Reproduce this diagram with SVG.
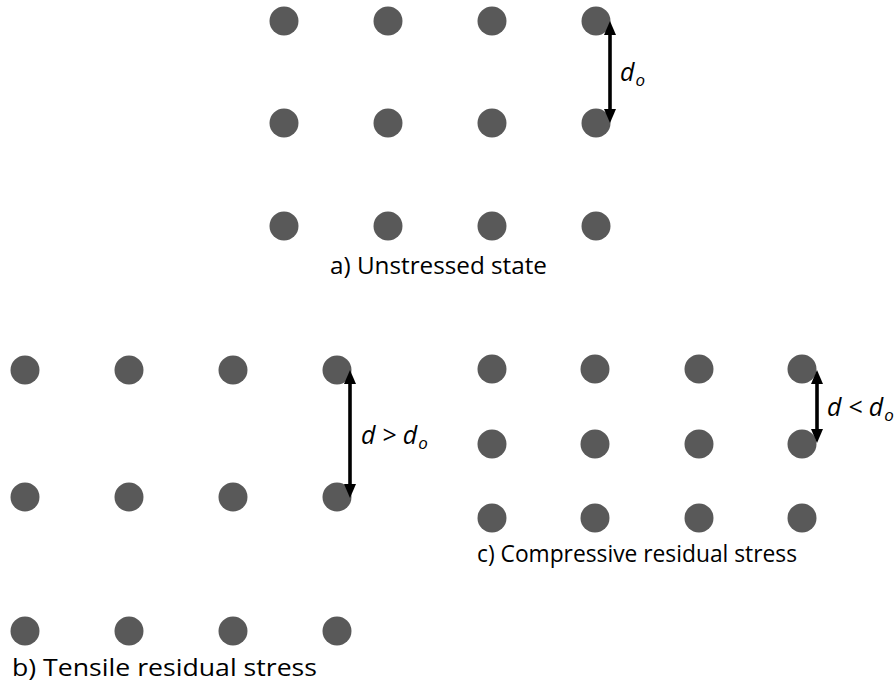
<svg xmlns="http://www.w3.org/2000/svg" width="896" height="685" viewBox="0 0 896 685">
<defs>
<style>
.dot{fill:#595959;}
.cap{font-family:"Open Sans","Liberation Sans",sans-serif;font-size:24px;fill:#000;}
.lbl{font-family:"Open Sans","Liberation Sans",sans-serif;font-style:italic;font-size:25px;fill:#000;}
.sub{font-size:17px;}
.arr{stroke:#000;stroke-width:3.6;fill:none;marker-start:url(#ah);marker-end:url(#ah);}
</style>
<marker id="ah" markerUnits="userSpaceOnUse" viewBox="0 0 14 12" markerWidth="14" markerHeight="12" refX="2" refY="6" orient="auto-start-reverse">
<path d="M0,0 L14,6 L0,12 z" fill="#000"/>
</marker>
</defs>
<rect width="896" height="685" fill="#fff"/>

<g id="grid-a">
<circle class="dot" cx="284" cy="21" r="14.5"/><circle class="dot" cx="388" cy="21" r="14.5"/><circle class="dot" cx="492" cy="21" r="14.5"/><circle class="dot" cx="596" cy="21" r="14.5"/>
<circle class="dot" cx="284" cy="123" r="14.5"/><circle class="dot" cx="388" cy="123" r="14.5"/><circle class="dot" cx="492" cy="123" r="14.5"/><circle class="dot" cx="596" cy="123" r="14.5"/>
<circle class="dot" cx="284" cy="226" r="14.5"/><circle class="dot" cx="388" cy="226" r="14.5"/><circle class="dot" cx="492" cy="226" r="14.5"/><circle class="dot" cx="596" cy="226" r="14.5"/>
<text class="cap" x="330" y="274" textLength="217" lengthAdjust="spacingAndGlyphs">a) Unstressed state</text>
<text class="lbl" x="620" y="81">d<tspan class="sub" dx="1" dy="5">o</tspan></text>
</g>

<g id="grid-b">
<circle class="dot" cx="25" cy="370" r="14.5"/><circle class="dot" cx="129" cy="370" r="14.5"/><circle class="dot" cx="233" cy="370" r="14.5"/><circle class="dot" cx="337" cy="370" r="14.5"/>
<circle class="dot" cx="25" cy="497" r="14.5"/><circle class="dot" cx="129" cy="497" r="14.5"/><circle class="dot" cx="233" cy="497" r="14.5"/><circle class="dot" cx="337" cy="497" r="14.5"/>
<circle class="dot" cx="25" cy="631" r="14.5"/><circle class="dot" cx="129" cy="631" r="14.5"/><circle class="dot" cx="233" cy="631" r="14.5"/><circle class="dot" cx="337" cy="631" r="14.5"/>
<text class="cap" x="12" y="676" textLength="305" lengthAdjust="spacingAndGlyphs">b) Tensile residual stress</text>
<text class="lbl" x="361" y="444">d &gt; d<tspan class="sub" dx="1" dy="5">o</tspan></text>
</g>

<g id="grid-c">
<circle class="dot" cx="492" cy="369" r="14.5"/><circle class="dot" cx="595" cy="369" r="14.5"/><circle class="dot" cx="699" cy="369" r="14.5"/><circle class="dot" cx="802" cy="369" r="14.5"/>
<circle class="dot" cx="492" cy="444" r="14.5"/><circle class="dot" cx="595" cy="444" r="14.5"/><circle class="dot" cx="699" cy="444" r="14.5"/><circle class="dot" cx="802" cy="444" r="14.5"/>
<circle class="dot" cx="492" cy="518" r="14.5"/><circle class="dot" cx="595" cy="518" r="14.5"/><circle class="dot" cx="699" cy="518" r="14.5"/><circle class="dot" cx="802" cy="518" r="14.5"/>
<text class="cap" x="477" y="562" textLength="320" lengthAdjust="spacingAndGlyphs">c) Compressive residual stress</text>
<text class="lbl" x="827" y="416">d &lt; d<tspan class="sub" dx="1" dy="5">o</tspan></text>
</g>

<g id="connectors">
<line class="arr" x1="610" y1="33" x2="610" y2="111"/>
<line class="arr" x1="350" y1="382" x2="350" y2="486"/>
<line class="arr" x1="817" y1="382" x2="817" y2="431"/>
</g>
</svg>
